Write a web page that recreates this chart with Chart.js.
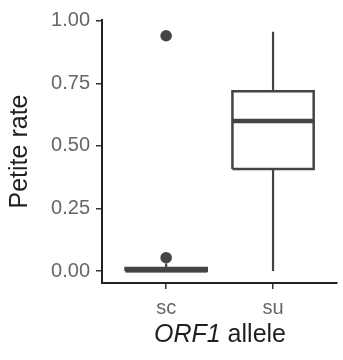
<!DOCTYPE html>
<html>
<head>
<meta charset="utf-8">
<script src="https://cdn.jsdelivr.net/npm/chart.js@4/dist/chart.umd.min.js"></script>
<style>
  html, body { margin: 0; padding: 0; background: #fff; }
  #wrap { position: relative; width: 343px; height: 360px; }
  #xTitle {
    position: absolute; left: 102px; width: 236px; top: 321px;
    text-align: center; font: 25px/1 'Liberation Sans', Arial, sans-serif; color: #1f1f1f;
  }
</style>
</head>
<body>
<div id="wrap">
  <canvas id="boxChart" width="343" height="360"></canvas>
  <div id="xTitle"><i>ORF1</i> allele</div>
</div>
<script>
/* ── box plot: petite rate by ORF1 allele ── */

const categories   = ['sc', 'su'];
const lowerWhisker = [0.000, 0.000];
const q1           = [0.000, 0.408];
const median       = [0.003, 0.599];
const q3           = [0.012, 0.718];
const upperWhisker = [0.030, 0.956];
const outliers     = [[0.053, 0.940], []];
const yTicks       = [0, 0.25, 0.5, 0.75, 1];

const INK = '#444';
const FONT = "'Liberation Sans', Arial, sans-serif";
const HALF = 0.38;   // half box width, in category units

const datasets = [];

// whiskers
categories.forEach((c, i) => {
  const x = i + 1;
  [[lowerWhisker[i], q1[i]], [q3[i], upperWhisker[i]]].forEach(([a, b]) => {
    datasets.push({
      type: 'line', order: 4,
      data: [{ x, y: a }, { x, y: b }],
      borderColor: INK, borderWidth: 2.2, pointRadius: 0, fill: false,
    });
  });
});

// boxes
categories.forEach((c, i) => {
  const x = i + 1;
  datasets.push({
    type: 'line', order: 3,
    data: [
      { x: x - HALF, y: q1[i] }, { x: x - HALF, y: q3[i] },
      { x: x + HALF, y: q3[i] }, { x: x + HALF, y: q1[i] },
      { x: x - HALF, y: q1[i] },
    ],
    borderColor: INK, borderWidth: 2.5, borderJoinStyle: 'miter',
    backgroundColor: '#fff', fill: 'shape', pointRadius: 0,
  });
});

// medians
categories.forEach((c, i) => {
  const x = i + 1;
  datasets.push({
    type: 'line', order: 2,
    data: [{ x: x - HALF, y: median[i] }, { x: x + HALF, y: median[i] }],
    borderColor: INK, borderWidth: 4.5, borderCapStyle: 'butt', pointRadius: 0, fill: false,
  });
});

// outliers
datasets.push({
  type: 'scatter', order: 1,
  data: outliers.flatMap((vals, i) => vals.map(v => ({ x: i + 1, y: v }))),
  backgroundColor: INK, borderWidth: 0, pointRadius: 5.8,
});

new Chart(document.getElementById('boxChart'), {
  type: 'line',
  data: { datasets },
  options: {
    responsive: false,
    animation: false,
    devicePixelRatio: 1,
    layout: { padding: { top: 20, right: 5, left: 0, bottom: 0 } },
    plugins: { legend: { display: false }, tooltip: { enabled: false } },
    scales: {
      x: {
        type: 'linear', min: 0.4, max: 2.6,
        afterBuildTicks: s => { s.ticks = categories.map((c, i) => ({ value: i + 1 })); },
        afterFit: s => { s.height = 77; },
        ticks: {
          callback: (v, i) => categories[i],
          color: '#666', font: { family: FONT, size: 20 }, padding: 7,
          autoSkip: false, maxRotation: 0,
        },
        grid: { drawOnChartArea: false, tickLength: 6, color: '#333', lineWidth: 1.5 },
        border: { display: true, color: '#222', width: 2 },
      },
      y: {
        type: 'linear', min: -0.048, max: 1.003,
        afterBuildTicks: s => { s.ticks = yTicks.map(v => ({ value: v })); },
        afterFit: s => { s.width = 102; },
        ticks: {
          callback: v => v.toFixed(2),
          color: '#666', font: { family: FONT, size: 20 }, padding: 6,
        },
        grid: { drawOnChartArea: false, tickLength: 6, color: '#333', lineWidth: 1.5 },
        border: { display: true, color: '#222', width: 2 },
        title: {
          display: true, text: 'Petite rate', color: '#1f1f1f',
          font: { family: FONT, size: 25 }, padding: { top: 5, bottom: 0 },
        },
      },
    },
  },
});
</script>
</body>
</html>
